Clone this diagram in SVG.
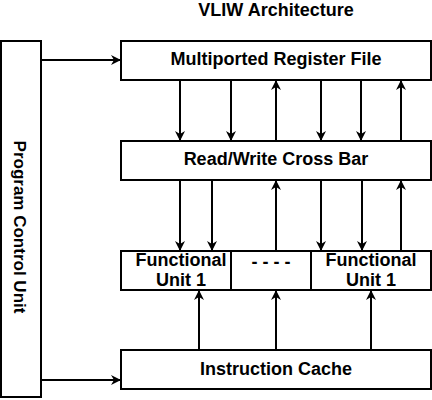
<svg xmlns="http://www.w3.org/2000/svg" width="432" height="400" viewBox="0 0 432 400">
<style>
.box{fill:#fff;stroke:#000;stroke-width:2}
.t{font-family:"Liberation Sans",Arial,sans-serif;font-weight:bold;font-size:18px;fill:#000;text-anchor:middle}
.c{stroke:#000;stroke-width:2;fill:none;marker-end:url(#ah)}
</style>
<defs>
<marker id="ah" viewBox="0 0 10 10" refX="9" refY="5" markerWidth="5" markerHeight="5" orient="auto" markerUnits="strokeWidth">
<path d="M0,0 L10,5 L0,10 L3,5 Z" fill="#000"/>
</marker>
</defs>
<rect width="432" height="400" fill="#fff"/>
<text class="t" x="276" y="16">VLIW Architecture</text>
<g id="pcu">
<rect class="box" x="1" y="41" width="40" height="356"/>
<text class="t" style="font-size:17px" transform="translate(14,227) rotate(90)">Program Control Unit</text>
</g>
<g id="rf">
<rect class="box" x="121" y="41" width="310" height="39"/>
<text class="t" x="276" y="65">Multiported Register File</text>
</g>
<g id="cb">
<rect class="box" x="121" y="141" width="310" height="39"/>
<text class="t" x="276" y="165">Read/Write Cross Bar</text>
</g>
<g id="fu1">
<rect class="box" x="121" y="251" width="110" height="39"/>
<text class="t" x="181" y="266">Functional</text>
<text class="t" x="181" y="286">Unit 1</text>
</g>
<g id="fudots">
<rect class="box" x="231" y="251" width="80" height="39"/>
<text class="t" x="271" y="268">- - - -</text>
</g>
<g id="fu2">
<rect class="box" x="311" y="251" width="120" height="39"/>
<text class="t" x="371" y="266">Functional</text>
<text class="t" x="371" y="286">Unit 1</text>
</g>
<g id="ic">
<rect class="box" x="121" y="350" width="310" height="39"/>
<text class="t" x="276" y="375">Instruction Cache</text>
</g>
<g id="connectors">
<path class="c" d="M41,60 H120"/>
<path class="c" d="M41,380 H120"/>
<path class="c" d="M180,80 V140"/>
<path class="c" d="M231,80 V140"/>
<path class="c" d="M276,141 V81"/>
<path class="c" d="M321,80 V140"/>
<path class="c" d="M361,80 V140"/>
<path class="c" d="M401,141 V81"/>
<path class="c" d="M180,180 V250"/>
<path class="c" d="M212,180 V250"/>
<path class="c" d="M276,250 V181"/>
<path class="c" d="M321,180 V250"/>
<path class="c" d="M362,180 V250"/>
<path class="c" d="M401,251 V181"/>
<path class="c" d="M199,350 V291"/>
<path class="c" d="M276,350 V291"/>
<path class="c" d="M371,350 V291"/>
</g>
</svg>
